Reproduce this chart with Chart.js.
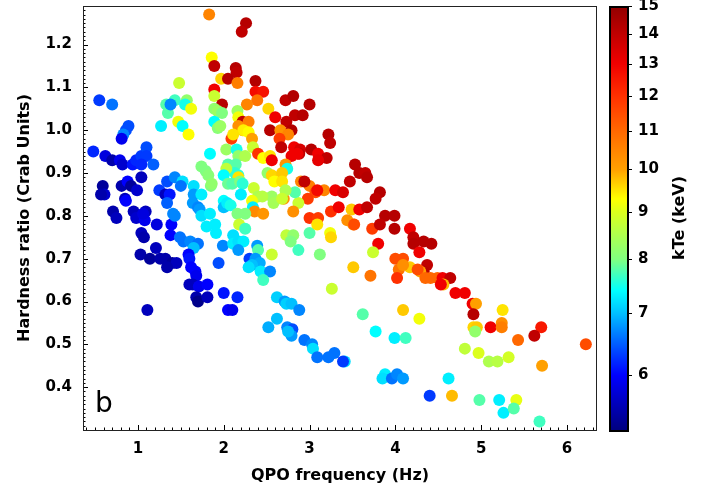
<!DOCTYPE html>
<html>
<head>
<meta charset="utf-8">
<script src="https://cdn.jsdelivr.net/npm/chart.js@4.4.0/dist/chart.umd.min.js"></script>
<style>
  html, body { margin: 0; padding: 0; background: #fff; }
</style>
</head>
<body>
<canvas id="myChart" width="712" height="493"></canvas>
<script>
// QPO frequency (Hz), hardness ratio (Crab units), electron temperature kTe (keV)
var qpoFreq = [
  0.55,0.70,0.89,0.86,0.83,0.81,0.48,0.62,0.70,0.79,0.82,0.94,0.98,1.04,1.10,1.10,1.04,1.18,1.04,0.59,
  0.61,0.57,0.81,0.88,0.92,0.99,0.85,0.86,0.71,0.95,1.09,0.75,0.98,1.08,1.06,1.22,1.39,1.43,1.04,1.07,
  1.38,1.49,1.53,1.61,1.70,1.65,1.59,1.60,1.03,1.21,1.14,1.26,1.32,1.40,1.45,1.34,1.62,1.67,1.68,1.60,
  1.64,1.71,1.81,1.68,1.70,1.81,1.11,1.94,2.00,2.05,2.10,2.16,1.99,
  1.25,1.32,1.37,1.34,1.43,1.52,1.50,1.34,1.65,1.65,1.74,1.64,1.70,1.72,1.41,1.74,1.84,1.84,1.74,1.79,
  1.82,1.85,1.80,1.90,1.91,
  1.83,1.86,1.89,1.48,1.33,1.35,1.43,1.38,1.57,1.55,1.62,1.47,1.52,1.27,1.59,
  2.26,2.21,2.14,2.15,1.97,2.05,2.16,2.37,2.37,2.46,
  1.89,1.89,2.39,1.98,2.27,2.72,2.81,3.00,2.52,1.89,
  1.93,1.98,2.16,2.17,2.60,2.83,2.92,1.89,2.22,2.29,
  2.73,1.93,1.96,2.17,2.22,2.23,2.29,2.09,2.11,2.54,
  2.66,2.79,2.75,2.33,2.65,3.22,3.24,2.34,2.67,2.82,
  2.89,2.88,3.02,2.79,2.86,3.10,3.20,3.10,2.40,2.46,
  2.54,2.56,2.03,2.15,2.17,2.25,2.05,2.14,2.72,2.74,
  2.51,2.56,2.68,2.59,2.68,2.13,2.17,2.17,2.03,2.00,
  1.86,2.05,2.10,2.19,2.22,2.90,3.00,2.94,3.17,3.07,
  3.09,3.30,2.98,2.87,2.83,2.70,2.72,2.35,2.40,2.56,
  2.58,2.45,2.33,2.68,2.34,2.20,2.00,2.05,2.00,2.04,
  2.08,2.36,2.46,2.81,2.16,2.25,3.00,3.10,3.25,3.34,
  3.53,3.58,3.65,3.67,3.47,3.39,3.82,3.77,3.49,3.58,
  3.67,3.44,3.51,3.52,3.73,3.88,3.99,3.82,3.99,4.17,
  4.21,4.21,4.33,4.42,4.28,3.80,3.74,4.00,4.09,3.24,
  3.25,4.04,4.02,4.17,4.09,4.37,4.33,4.29,4.26,4.35,
  4.41,4.49,4.55,4.64,4.56,4.53,4.70,4.81,3.51,3.71,
  3.26,3.62,4.09,4.28,3.77,3.99,4.12,3.29,3.41,3.39,
  3.88,3.85,3.96,4.02,4.09,4.62,4.40,4.66,4.81,
  4.90,4.94,4.91,4.91,4.95,4.93,5.25,5.24,5.11,5.24,
  5.70,5.62,5.43,6.22,4.97,5.09,5.19,5.32,5.71,4.98,
  5.21,5.41,5.26,5.38,5.68,
  2.11,2.11,2.17,2.23,2.17,2.18,2.25,2.39,2.56,2.40,
  2.30,2.37,2.42,2.33,2.29,2.43,2.54,2.46,2.62,2.71,
  2.73,2.79,2.88,2.62,2.52,2.74,2.80,2.79,2.75,2.94,
  3.03,3.04,3.09,3.22,2.73,2.81,2.78,2.87,3.00,3.12,3.09
];
var hardness = [
  1.07,1.06,1.01,1.00,0.99,0.98,0.95,0.94,0.93,0.93,0.92,0.92,0.93,0.94,0.96,0.94,0.92,0.92,0.89,0.87,
  0.85,0.85,0.87,0.88,0.87,0.86,0.84,0.835,0.81,0.81,0.81,0.795,0.795,0.79,0.805,0.78,0.78,0.80,0.76,0.75,
  0.755,0.75,0.74,0.74,0.735,0.725,0.71,0.70,0.71,0.725,0.70,0.70,0.70,0.69,0.69,0.68,0.68,0.67,0.66,0.64,
  0.64,0.635,0.64,0.61,0.60,0.61,0.58,0.69,0.62,0.58,0.58,0.61,0.73,
  0.86,0.85,0.85,0.88,0.89,0.88,0.87,0.83,0.87,0.85,0.85,0.83,0.82,0.815,0.805,0.80,0.805,0.945,0.915,0.905,
  0.895,0.87,0.775,0.78,0.76,
  1.27,1.17,1.15,1.11,1.06,1.04,1.07,1.06,1.07,1.06,1.05,1.02,1.01,1.01,0.99,
  1.25,1.23,1.145,1.135,1.12,1.12,1.11,1.115,1.09,1.09,
  1.095,1.08,1.07,1.06,1.06,1.07,1.08,1.06,1.05,1.05,
  1.045,1.04,1.045,1.03,1.03,1.035,1.035,1.02,1.02,1.02,
  1.02,1.005,1.01,1.01,1.00,1.00,0.995,0.98,0.99,1.00,
  1.00,1.00,0.99,0.98,0.98,0.99,0.97,0.96,0.96,0.96,
  0.955,0.945,0.955,0.94,0.945,0.945,0.935,0.93,0.945,0.935,
  0.94,0.93,0.955,0.955,0.94,0.94,0.92,0.92,0.92,0.91,
  0.90,0.895,0.90,0.88,0.88,0.90,0.895,0.89,0.91,0.895,
  0.875,0.875,0.875,0.88,0.875,0.88,0.87,0.88,0.86,0.855,
  0.86,0.86,0.84,0.83,0.855,0.84,0.86,0.865,0.845,0.845,
  0.83,0.845,0.835,0.84,0.82,0.85,0.835,0.825,0.82,0.83,
  0.825,0.81,0.805,0.81,0.805,0.805,0.795,0.795,0.81,0.82,
  0.92,0.90,0.90,0.89,0.88,0.855,0.855,0.84,0.815,0.815,
  0.82,0.79,0.78,0.78,0.77,0.80,0.80,0.78,0.77,0.77,
  0.75,0.735,0.74,0.735,0.715,0.735,0.715,0.70,0.70,0.76,
  0.75,0.675,0.655,0.68,0.685,0.685,0.67,0.67,0.675,0.655,
  0.655,0.655,0.655,0.655,0.64,0.64,0.62,0.62,0.68,0.66,
  0.63,0.57,0.58,0.56,0.53,0.515,0.515,0.48,0.46,0.46,
  0.43,0.42,0.42,0.43,0.42,0.42,0.38,0.38,0.49,
  0.595,0.595,0.57,0.54,0.54,0.53,0.58,0.55,0.54,0.54,
  0.54,0.52,0.51,0.50,0.48,0.46,0.46,0.47,0.45,0.37,
  0.37,0.37,0.34,0.35,0.32,
  0.755,0.735,0.74,0.74,0.72,0.78,0.77,0.73,0.71,0.72,
  0.70,0.70,0.69,0.685,0.68,0.67,0.67,0.65,0.61,0.60,
  0.595,0.595,0.58,0.56,0.54,0.54,0.535,0.52,0.53,0.51,
  0.50,0.49,0.47,0.47,0.755,0.755,0.74,0.72,0.76,0.71,0.78
];
var kTe = [
  6.3,6.6,6.4,6.4,6.7,5.9,6.2,5.8,5.5,5.9,5.7,6.1,6.2,6.3,6.4,6.3,6.2,6.5,5.6,5.4,
  5.7,5.5,5.5,6.0,5.4,5.7,5.6,6.0,5.5,5.6,5.6,5.6,5.7,5.9,5.8,5.8,6.0,6.7,5.6,5.5,
  6.0,6.6,6.6,6.7,6.6,7.0,6.0,6.1,5.5,5.6,5.4,5.5,5.5,5.4,5.6,5.5,6.0,6.0,5.9,5.6,
  5.6,5.9,6.0,5.5,5.3,5.6,5.6,6.4,6.1,6.0,5.9,6.2,6.7,
  6.3,5.6,6.1,6.4,6.7,7.2,6.6,6.5,7.2,6.8,7.3,6.8,6.7,6.8,6.7,7.2,7.3,7.4,8.0,8.0,
  8.1,8.0,7.3,7.3,7.3,
  10.5,9.3,14.0,8.8,7.8,7.8,7.7,6.7,8.2,7.5,9.2,9.2,7.4,7.3,9.3,
  14.2,14.0,14.2,14.0,9.6,14.2,10.6,14.3,12.8,12.6,
  13.0,8.8,10.8,14.2,10.5,14.0,14.3,14.2,9.6,8.2,
  8.3,8.0,8.3,9.2,13.0,14.0,14.2,7.4,14.0,10.6,
  14.0,8.1,8.3,10.3,10.0,9.4,9.3,11.8,9.5,14.2,
  10.2,14.3,10.5,10.0,11.8,14.2,14.0,8.8,14.0,13.0,
  13.5,14.0,14.2,13.0,13.0,13.0,14.0,13.2,12.0,9.3,
  9.5,13.0,8.3,7.5,8.2,8.5,7.8,7.8,10.2,7.5,
  8.2,9.6,9.7,9.3,9.5,7.6,7.6,9.5,8.7,7.4,
  8.2,7.9,7.8,8.0,7.6,10.5,10.6,14.0,10.5,11.5,
  12.8,13.0,11.8,8.8,7.8,10.2,8.5,8.8,8.5,8.3,
  8.4,8.6,9.2,8.8,7.3,7.3,7.4,7.1,7.0,7.3,
  7.5,10.4,10.2,10.3,8.0,8.0,12.0,11.8,12.0,13.0,
  14.2,14.2,14.0,14.2,14.0,13.5,14.2,14.0,9.7,13.0,
  14.0,10.3,10.3,11.5,11.8,14.2,14.2,14.0,14.2,13.0,
  14.0,14.2,14.2,14.2,13.0,13.0,8.8,11.5,11.5,9.2,
  9.6,10.8,12.0,9.7,10.3,14.0,14.2,10.0,11.5,11.0,
  11.0,11.0,13.0,14.0,9.8,13.0,13.0,13.0,9.7,10.8,
  8.8,7.8,9.7,9.2,7.4,7.3,7.7,6.6,7.2,6.3,
  7.3,7.2,6.6,6.7,6.8,7.3,6.3,9.8,8.7,
  13.0,10.0,14.2,9.6,9.7,8.2,9.5,10.3,13.0,10.6,
  12.5,14.0,11.0,11.5,9.0,8.5,8.6,8.9,10.0,7.8,
  7.3,9.1,7.3,7.8,7.7,
  7.2,7.3,7.2,7.3,6.8,8.8,7.7,6.8,8.8,7.8,
  6.3,6.8,6.9,7.0,7.2,7.3,6.7,7.7,7.1,6.8,
  7.1,7.0,6.7,7.0,6.9,6.7,6.4,6.8,7.0,6.6,
  6.7,7.2,6.6,6.6,8.7,8.2,8.0,7.7,7.8,8.0,9.5
];

var xTicks = [1, 2, 3, 4, 5, 6];
var yTicks = [0.4, 0.5, 0.6, 0.7, 0.8, 0.9, 1.0, 1.1, 1.2];
var cbTicks = [6, 7, 8, 9, 10, 11, 12, 13, 14, 15];

// colour map (jet-like) keyed on kTe
var cmap = [
  [5.24, '#000080'], [6.0, '#0000ff'], [6.5, '#0060ff'], [7.0, '#00c0ff'],
  [7.4, '#00ffff'], [8.0, '#80ff80'], [9.0, '#dcff1c'], [9.3, '#ffff00'],
  [10.0, '#ffa000'], [11.0, '#ff6800'], [12.0, '#ff3000'], [13.0, '#f00000'],
  [14.0, '#c00000'], [15.0, '#900000']
];

function hexRgb(h) {
  return [parseInt(h.substr(1, 2), 16), parseInt(h.substr(3, 2), 16), parseInt(h.substr(5, 2), 16)];
}
function colorFor(v) {
  if (v <= cmap[0][0]) return cmap[0][1];
  for (var i = 1; i < cmap.length; i++) {
    if (v <= cmap[i][0]) {
      var a = cmap[i - 1], b = cmap[i];
      var t = (v - a[0]) / (b[0] - a[0]);
      var ca = hexRgb(a[1]), cb = hexRgb(b[1]);
      return 'rgb(' + Math.round(ca[0] + (cb[0] - ca[0]) * t) + ',' +
        Math.round(ca[1] + (cb[1] - ca[1]) * t) + ',' +
        Math.round(ca[2] + (cb[2] - ca[2]) * t) + ')';
    }
  }
  return cmap[cmap.length - 1][1];
}

Chart.defaults.font.family = 'DejaVu Sans';
Chart.defaults.color = '#000';

var points = qpoFreq.map(function (x, i) { return { x: x, y: hardness[i] }; });

// scales must not push the plot area around with their label padding
function noPad(s) {
  s.paddingTop = 0; s.paddingBottom = 0; s.paddingLeft = 0; s.paddingRight = 0;
}

var decor = {
  id: 'decor',
  afterDraw: function (chart) {
    var ctx = chart.ctx, a = chart.chartArea;
    var sx = chart.scales.x, sy = chart.scales.y, sc = chart.scales.c;
    ctx.save();
    // inward ticks, bottom and left only
    ctx.strokeStyle = '#000';
    ctx.lineWidth = 1;
    ctx.beginPath();
    for (var i = 4; i <= 63; i++) {
      var px = Math.round(sx.getPixelForValue(i / 10)) + 0.5;
      var len = (i % 10 === 0) ? 5 : 2.5;
      ctx.moveTo(px, a.bottom);
      ctx.lineTo(px, a.bottom - len);
    }
    for (var j = 31; j <= 128; j++) {
      var py = Math.round(sy.getPixelForValue(j / 100)) + 0.5;
      var len2 = (j % 10 === 0) ? 5 : 2.5;
      ctx.moveTo(a.left, py);
      ctx.lineTo(a.left + len2, py);
    }
    ctx.stroke();
    // frame
    ctx.strokeStyle = '#222';
    ctx.strokeRect(a.left + 0.5, a.top + 0.5, a.right - a.left - 1, a.bottom - a.top);

    // panel letter
    ctx.fillStyle = '#000';
    ctx.font = '28px "DejaVu Sans"';
    ctx.textAlign = 'left';
    ctx.textBaseline = 'alphabetic';
    ctx.fillText('b', a.left + 12, 412);

    // colour bar
    var bx = sc.left + 13, bw = 18;
    for (var yy = Math.floor(sc.top); yy < sc.bottom; yy++) {
      ctx.fillStyle = colorFor(sc.getValueForPixel(yy + 0.5));
      ctx.fillRect(bx, yy, bw, 1);
    }
    ctx.lineWidth = 2;
    ctx.strokeStyle = '#000';
    ctx.strokeRect(bx, sc.top + 1, bw, sc.bottom - sc.top);
    ctx.lineWidth = 1;
    ctx.beginPath();
    cbTicks.forEach(function (v) {
      var ty = Math.round(sc.getPixelForValue(v)) + 0.5;
      ctx.moveTo(bx + bw, ty);
      ctx.lineTo(bx + bw + 4, ty);
    });
    ctx.stroke();

    // colour bar title
    ctx.translate(680, (sc.top + sc.bottom) / 2);
    ctx.rotate(-Math.PI / 2);
    ctx.font = 'bold 16px "DejaVu Sans"';
    ctx.textAlign = 'center';
    ctx.textBaseline = 'middle';
    ctx.fillStyle = '#000';
    ctx.fillText('kTe (keV)', 0, 0);
    ctx.restore();
  }
};

var tickFont = { family: 'DejaVu Sans', weight: 'bold', size: 15 };
var titleFont = { family: 'DejaVu Sans', weight: 'bold', size: 16 };

var myChart = new Chart(document.getElementById('myChart'), {
  type: 'scatter',
  data: {
    datasets: [{
      data: points,
      backgroundColor: kTe.map(colorFor),
      borderWidth: 0,
      pointRadius: 6,
      pointHoverRadius: 6
    }]
  },
  options: {
    responsive: false,
    animation: false,
    events: [],
    layout: { padding: { top: 4, left: 0, right: 0, bottom: 0 } },
    plugins: { legend: { display: false }, tooltip: { enabled: false } },
    scales: {
      x: {
        type: 'linear', position: 'bottom', min: 0.36, max: 6.35,
        afterBuildTicks: function (s) { s.ticks = xTicks.map(function (v) { return { value: v }; }); },
        afterFit: function (s) { s.height = 63; noPad(s); },
        grid: { display: false, drawTicks: false },
        border: { display: false },
        ticks: { padding: 10, font: tickFont, color: '#000', maxRotation: 0, autoSkip: false,
                 callback: function (v) { return String(v); } },
        title: { display: true, text: 'QPO frequency (Hz)', font: titleFont, color: '#000',
                 padding: { top: 0, bottom: 8 } }
      },
      y: {
        type: 'linear', position: 'left', min: 0.3, max: 1.29,
        afterBuildTicks: function (s) { s.ticks = yTicks.map(function (v) { return { value: v }; }); },
        afterFit: function (s) { s.width = 83; noPad(s); },
        grid: { display: false, drawTicks: false },
        border: { display: false },
        ticks: { padding: 11, font: tickFont, color: '#000', autoSkip: false,
                 callback: function (v) { return v.toFixed(1); } },
        title: { display: true, text: 'Hardness ratio (Crab Units)', font: titleFont, color: '#000',
                 padding: { top: 15, bottom: 0 } }
      },
      c: {
        type: 'logarithmic', position: 'right', min: 5.24, max: 15,
        afterBuildTicks: function (s) { s.ticks = cbTicks.map(function (v) { return { value: v }; }); },
        afterFit: function (s) { s.width = 115; noPad(s); },
        grid: { display: false, drawTicks: false },
        border: { display: false },
        ticks: { padding: 41, font: tickFont, color: '#000', autoSkip: false,
                 callback: function (v) { return String(v); } }
      }
    }
  },
  plugins: [decor]
});
</script>
</body>
</html>
